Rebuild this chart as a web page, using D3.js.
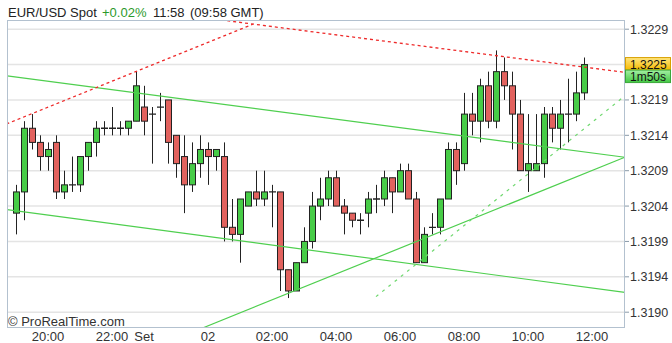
<!DOCTYPE html>
<html>
<head>
<meta charset="utf-8">
<style>
    body { margin: 0; background: #fff; }
    text { font-family: "Liberation Sans", Arial, sans-serif; fill: #222; }
    .grid line { stroke: #e4e4e4; stroke-width: 1.5 }
    .frame { fill: none; stroke: #b3c1cf; stroke-width: 1 }
</style>
</head>
<body>
<svg id="chart" width="672" height="343"></svg>
<script src="https://cdn.jsdelivr.net/npm/d3@7/dist/d3.min.js"></script>
<script>
    // EUR/USD, 15 minute candles
    let opens  = [1.3204,1.3207,1.3216,1.3214,1.3212,1.3214,1.3207,1.3208,1.3208,1.3212,
                  1.3214,1.3216,1.3216,1.3216,1.3216,1.3217,1.3219,1.3218,1.3219,1.3220,
                  1.3215,1.3212,1.3208,1.3211,1.3213,1.3212,1.3212,1.3202,1.3201,1.3205,
                  1.3207,1.3206,1.3207,1.3207,1.3196,1.3193,1.3197,1.3200,1.3205,1.3206,
                  1.3209,1.3205,1.3204,1.3203,1.3204,1.3206,1.3206,1.3209,1.3207,1.3210,
                  1.3206,1.3197,1.3202,1.3202,1.3206,1.3213,1.3211,1.3218,1.3217,1.3222,
                  1.3217,1.3224,1.3222,1.3218,1.3210,1.3210,1.3211,1.3218,1.3216,1.3218,
                  1.3218,1.3221]
    let highs  = [1.3208,1.3217,1.3218,1.3215,1.3214,1.3215,1.3210,1.3212,1.3212,1.3214,
                  1.3217,1.3217,1.3219,1.3217,1.3217,1.3224,1.3222,1.3219,1.3221,1.3220,
                  1.3215,1.3215,1.3214,1.3215,1.3214,1.3213,1.3214,1.3206,1.3206,1.3207,
                  1.3210,1.3210,1.3208,1.3207,1.3196,1.3197,1.3202,1.3207,1.3209,1.3210,
                  1.3210,1.3206,1.3204,1.3204,1.3207,1.3208,1.3210,1.3209,1.3211,1.3211,
                  1.3207,1.3202,1.3204,1.3206,1.3214,1.3214,1.3221,1.3221,1.3223,1.3224,
                  1.3227,1.3226,1.3224,1.3220,1.3218,1.3218,1.3219,1.3219,1.3220,1.3223,
                  1.3224,1.3226]
    let lows   = [1.3201,1.3203,1.3213,1.3210,1.3210,1.3206,1.3206,1.3207,1.3207,1.3210,
                  1.3212,1.3215,1.3215,1.3215,1.3215,1.3217,1.3215,1.3211,1.3217,1.3211,
                  1.3209,1.3204,1.3207,1.3209,1.3208,1.3210,1.3200,1.3200,1.3197,1.3205,
                  1.3205,1.3205,1.3202,1.3193,1.3192,1.3193,1.3197,1.3199,1.3203,1.3205,
                  1.3205,1.3201,1.3202,1.3201,1.3202,1.3204,1.3205,1.3204,1.3207,1.3206,
                  1.3197,1.3197,1.3201,1.3201,1.3206,1.3208,1.3210,1.3215,1.3214,1.3216,
                  1.3216,1.3220,1.3213,1.3210,1.3207,1.3210,1.3209,1.3214,1.3213,1.3214,
                  1.3217,1.3220]
    let closes = [1.3207,1.3216,1.3214,1.3212,1.3213,1.3207,1.3208,1.3208,1.3212,1.3214,
                  1.3216,1.3216,1.3216,1.3216,1.3217,1.3222,1.3217,1.3218,1.3219,1.3214,
                  1.3211,1.3208,1.3211,1.3213,1.3212,1.3213,1.3202,1.3201,1.3206,1.3207,
                  1.3206,1.3207,1.3207,1.3196,1.3193,1.3197,1.3200,1.3205,1.3206,1.3209,
                  1.3205,1.3204,1.3203,1.3203,1.3206,1.3206,1.3209,1.3207,1.3210,1.3206,
                  1.3197,1.3201,1.3202,1.3206,1.3213,1.3210,1.3218,1.3217,1.3222,1.3217,
                  1.3224,1.3222,1.3218,1.3210,1.3211,1.3211,1.3218,1.3216,1.3218,1.3218,
                  1.3221,1.3225]

    // price axis (the 1.3224 label sits under the last-price box, so it is left blank)
    let priceTicks  = [1.3190,1.3195,1.3200,1.3205,1.3210,1.3215,1.3220,1.3225,1.3230]
    let priceLabels = ["1.3190","1.3194","1.3199","1.3204","1.3209","1.3214","1.3219","","1.3229"]

    // time axis (candle index of each label)
    let timeTicks  = [4,12,16,24,32,40,48,56,64,72]
    let timeLabels = ["20:00","22:00","Set","02","02:00","04:00","06:00","08:00","10:00","12:00"]

    // drawn trend lines: [candle index, price] pairs
    let redLines   = [[[-1.2,1.32166],[29.6,1.32307]], [[26.4,1.32312],[76.1,1.32239]]]
    let greenLines = [[[-1.1,1.32234],[76.1,1.32119]], [[-1.1,1.32045],[76.1,1.31928]], [[23.4,1.31878],[76.1,1.32119]]]
    let greenDashed = [[[45,1.31922],[75.8,1.32203]]]

    let lastPrice = "1.3225"
    let countdown = "1m50s"

    let svg = d3.select("#chart")
    let pLeft = 7, pRight = 625, pTop = 20, pBottom = 327.5

    let x = d3.scaleLinear().domain([0, 71]).range([16, 584])
    let y = d3.scaleLinear().domain([1.3190, 1.3230]).range([312.2, 29.2])

    let candles = opens.map((o, i) => ({ i: i, o: o, h: highs[i], l: lows[i], c: closes[i] }))

    let defs = svg.append("defs")
    defs.append("clipPath").attr("id", "plot")
        .append("rect").attr("x", pLeft).attr("y", pTop).attr("width", pRight - pLeft).attr("height", pBottom - pTop)

    let gy = defs.append("linearGradient").attr("id", "gy").attr("x2", 0).attr("y2", 1)
    gy.append("stop").attr("offset", 0).attr("stop-color", "#ffe680")
    gy.append("stop").attr("offset", 1).attr("stop-color", "#f6b900")
    let gg = defs.append("linearGradient").attr("id", "gg").attr("x2", 0).attr("y2", 1)
    gg.append("stop").attr("offset", 0).attr("stop-color", "#a4f0a4")
    gg.append("stop").attr("offset", 1).attr("stop-color", "#44c844")

    // grid
    svg.append("g").attr("class", "grid")
        .selectAll("line").data(priceTicks).enter().append("line")
        .attr("x1", pLeft).attr("x2", pRight)
        .attr("y1", d => y(d)).attr("y2", d => y(d))

    let plot = svg.append("g").attr("clip-path", "url(#plot)")

    // candles
    let cg = plot.selectAll("g.candle").data(candles).enter().append("g")
    cg.append("line")
        .attr("x1", d => x(d.i) + 0.5).attr("x2", d => x(d.i) + 0.5)
        .attr("y1", d => y(d.h)).attr("y2", d => y(d.l))
        .attr("stroke", "#222")
    cg.filter(d => d.o !== d.c).append("rect")
        .attr("x", d => x(d.i) - 2.5).attr("width", 6)
        .attr("y", d => y(Math.max(d.o, d.c)))
        .attr("height", d => y(Math.min(d.o, d.c)) - y(Math.max(d.o, d.c)))
        .attr("fill", d => d.c > d.o ? "#47cc47" : "#e2625e")
        .attr("stroke", "#222")
    cg.filter(d => d.o === d.c).append("line")
        .attr("x1", d => x(d.i) - 3).attr("x2", d => x(d.i) + 4)
        .attr("y1", d => y(d.o)).attr("y2", d => y(d.o))
        .attr("stroke", "#222").attr("stroke-width", 1.3)

    // trend lines
    let seg = d3.line().x(d => x(d[0])).y(d => y(d[1]))
    plot.selectAll("path.g").data(greenLines).enter().append("path")
        .attr("d", seg).attr("fill", "none").attr("stroke", "#4fcf4f").attr("stroke-width", 1.2)
    plot.selectAll("path.gd").data(greenDashed).enter().append("path")
        .attr("d", seg).attr("fill", "none").attr("stroke", "#6fd86f").attr("stroke-width", 1.2)
        .attr("stroke-dasharray", "3,5")
    plot.selectAll("path.r").data(redLines).enter().append("path")
        .attr("d", seg).attr("fill", "none").attr("stroke", "#ee2a2a").attr("stroke-width", 1.3)
        .attr("stroke-dasharray", "3,3")

    // frame
    svg.append("rect").attr("class", "frame")
        .attr("x", pLeft + 0.5).attr("y", pTop + 0.5).attr("width", pRight - pLeft - 1).attr("height", pBottom - pTop - 0.5)

    // price axis
    let ya = svg.append("g")
    ya.selectAll("line").data(priceTicks).enter().append("line")
        .attr("x1", pRight).attr("x2", pRight + 4)
        .attr("y1", d => y(d)).attr("y2", d => y(d))
        .attr("stroke", "#8a9aa8")
    ya.selectAll("text").data(priceTicks).enter().append("text")
        .attr("x", pRight + 5).attr("y", d => y(d)).attr("dy", "0.36em")
        .attr("font-size", "12.5px").style("fill", "#333")
        .text((d, i) => priceLabels[i])

    // time axis
    svg.append("g").selectAll("text").data(timeTicks).enter().append("text")
        .attr("x", d => x(d)).attr("y", 341)
        .attr("text-anchor", "middle").attr("font-size", "13px").style("fill", "#333")
        .text((d, i) => timeLabels[i])

    // last price + countdown
    let yl = y(closes[closes.length - 1])
    svg.append("rect").attr("x", pRight + 0.5).attr("y", yl - 7).attr("width", 45).attr("height", 12.5)
        .attr("fill", "url(#gy)").attr("stroke", "#d9a000")
    svg.append("text").attr("x", pRight + 5).attr("y", yl + 4)
        .attr("font-size", "12px").style("fill", "#111").text(lastPrice)
    svg.append("rect").attr("x", pRight + 0.5).attr("y", yl + 5.5).attr("width", 45).attr("height", 12.5)
        .attr("fill", "url(#gg)").attr("stroke", "#3aa83a")
    svg.append("text").attr("x", pRight + 5).attr("y", yl + 16.5)
        .attr("font-size", "12px").style("fill", "#111").text(countdown)

    // header
    let title = svg.append("text").attr("y", 16.5).attr("font-size", "13px")
    title.append("tspan").attr("x", 8).text("EUR/USD Spot")
    title.append("tspan").attr("x", 102).style("fill", "#2b9a2b").text("+0.02%")
    title.append("tspan").attr("x", 153).text("11:58")
    title.append("tspan").attr("x", 190).text("(09:58 GMT)")

    svg.append("text").attr("x", 8).attr("y", 325.5).attr("font-size", "13px").style("fill", "#333")
        .text("© ProRealTime.com")
</script>
</body>
</html>
